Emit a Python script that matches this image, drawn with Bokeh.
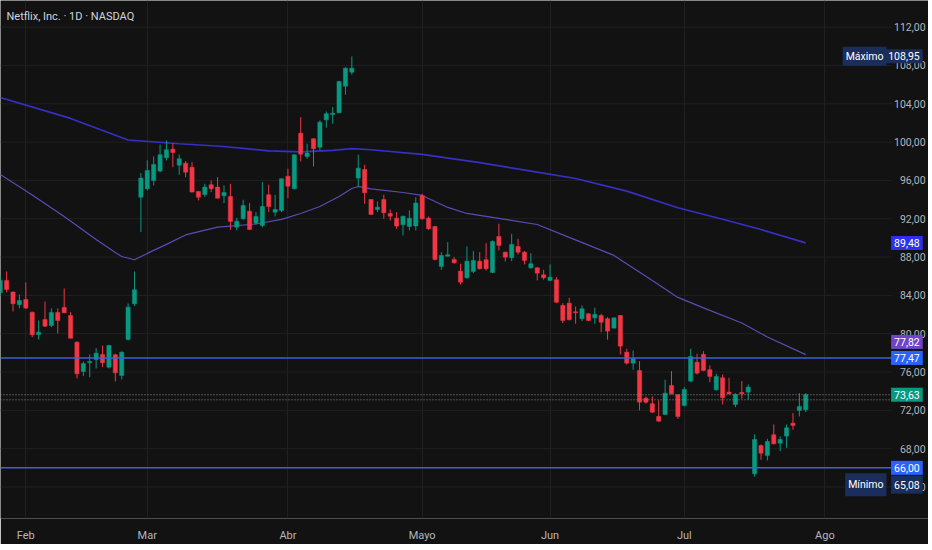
from bokeh.plotting import figure
from bokeh.models import (ColumnDataSource, FixedTicker, CustomJSTickFormatter,
                          Label, Range1d)
from bokeh.embed import file_html
from bokeh.resources import INLINE

title_text = "Netflix, Inc. \u00b7 1D \u00b7 NASDAQ"

opens = [84.30, 85.56, 84.34, 83.02, 83.57, 82.25, 79.92, 81.49, 80.86, 82.22,
         82.74, 81.90, 79.12, 76.06, 76.97, 77.31, 77.84, 76.51, 77.80, 75.64,
         79.40, 83.13, 94.25, 95.13, 96.00, 96.97, 98.37, 99.26, 97.59, 97.80,
         97.38, 94.85, 94.53, 95.55, 95.30, 94.40, 94.33, 91.12, 92.00, 92.79,
         91.54, 91.30, 94.50, 92.69, 92.86, 96.44, 95.13, 100.93, 98.50, 100.35,
         99.47, 102.33, 102.89, 103.06, 105.84, 107.30, 96.24, 97.14, 94.01, 92.97,
         94.01, 92.55, 92.06, 91.37, 91.20, 91.25, 94.43, 92.06, 91.19, 87.02,
         88.09, 87.75, 86.53, 85.84, 86.50, 87.57, 87.72, 86.39, 90.15, 88.51,
         87.93, 89.11, 88.51, 86.88, 86.88, 86.15, 85.56, 85.63, 82.95, 83.19,
         82.29, 81.56, 82.08, 81.66, 81.90, 81.56, 80.58, 81.90, 78.07, 76.93,
         76.16, 73.27, 72.69, 71.36, 71.57, 74.60, 73.63, 72.51, 75.05, 77.03,
         77.84, 76.24, 74.15, 75.40, 73.90, 72.61, 73.87, 73.90, 65.38, 68.33,
         67.29, 69.45, 68.57, 69.31, 70.66, 71.99, 72.06]
highs = [86.08, 86.50, 84.40, 84.09, 85.35, 82.30, 81.38, 83.36, 82.64, 82.64,
         84.72, 82.25, 79.20, 77.10, 77.84, 78.49, 78.77, 78.85, 77.91, 78.15,
         83.16, 86.50, 96.76, 98.08, 98.50, 99.75, 100.17, 99.89, 98.71, 98.01,
         97.91, 94.90, 95.65, 96.00, 96.34, 95.47, 95.65, 92.10, 93.98, 93.63,
         92.69, 95.82, 95.55, 94.50, 96.20, 97.22, 98.70, 102.60, 99.83, 100.40,
         102.26, 103.20, 103.65, 106.40, 107.80, 108.95, 98.68, 97.64, 94.05, 93.80,
         94.50, 92.97, 92.69, 92.30, 92.86, 94.25, 94.61, 92.24, 91.25, 88.51,
         89.56, 87.99, 87.30, 89.11, 88.62, 88.51, 89.45, 89.73, 91.48, 88.55,
         90.43, 89.91, 88.62, 88.41, 86.95, 86.67, 87.23, 85.90, 83.19, 83.75,
         82.84, 82.95, 82.14, 82.71, 82.08, 81.73, 81.70, 81.95, 78.43, 78.25,
         77.13, 73.45, 73.45, 73.03, 75.19, 76.09, 73.66, 74.42, 78.43, 77.91,
         78.18, 76.69, 75.82, 75.74, 75.40, 73.79, 75.05, 74.70, 69.49, 68.44,
         69.03, 70.53, 69.27, 70.53, 71.71, 73.79, 73.79]
lows = [84.00, 84.30, 82.32, 82.64, 82.60, 79.64, 79.40, 80.70, 80.68, 80.03,
        82.15, 79.50, 75.33, 75.57, 75.46, 76.37, 76.51, 76.37, 75.02, 75.22,
        79.30, 82.88, 90.60, 94.95, 95.47, 96.86, 98.08, 97.38, 96.59, 96.34,
        94.75, 93.91, 94.25, 94.78, 94.10, 93.63, 90.85, 90.78, 91.89, 90.85,
        91.40, 91.12, 92.69, 92.24, 92.69, 94.15, 95.06, 97.98, 98.26, 97.46,
        99.13, 101.50, 101.91, 103.00, 104.94, 107.03, 95.30, 93.56, 92.40, 92.69,
        92.00, 91.82, 90.95, 90.25, 90.78, 90.78, 91.89, 90.85, 87.65, 86.67,
        88.06, 87.30, 85.14, 85.74, 86.32, 86.71, 86.60, 86.32, 88.69, 87.54,
        87.57, 88.27, 87.23, 86.78, 85.56, 85.63, 85.49, 83.19, 81.10, 81.38,
        81.04, 81.31, 81.31, 81.04, 80.16, 79.37, 80.55, 77.84, 76.79, 76.24,
        71.99, 72.69, 71.71, 70.80, 71.50, 73.66, 71.12, 72.41, 74.94, 75.74,
        76.09, 74.94, 74.07, 72.61, 73.66, 72.33, 73.21, 73.11, 65.08, 66.84,
        66.77, 68.44, 67.74, 68.09, 69.98, 71.36, 71.81]
closes = [85.56, 84.62, 83.13, 83.47, 82.67, 79.89, 80.16, 80.79, 82.22, 81.38,
          82.19, 79.53, 75.82, 76.89, 77.10, 77.97, 76.97, 78.77, 75.92, 78.07,
          82.77, 84.59, 96.24, 97.04, 97.67, 98.68, 99.20, 98.92, 98.26, 96.86,
          94.78, 94.25, 95.30, 95.13, 94.15, 94.74, 91.72, 91.75, 93.39, 90.88,
          92.24, 93.28, 93.28, 92.97, 96.17, 95.40, 98.68, 98.74, 98.85, 99.31,
          102.08, 102.96, 103.02, 106.33, 107.72, 107.72, 97.28, 94.71, 92.45, 93.21,
          92.62, 92.27, 91.23, 92.27, 92.06, 93.63, 92.00, 90.95, 87.75, 88.17,
          88.24, 87.41, 85.38, 87.57, 87.65, 86.78, 86.78, 89.63, 89.21, 87.99,
          89.32, 88.51, 87.65, 87.30, 86.32, 85.84, 85.90, 83.29, 81.38, 81.46,
          82.19, 82.60, 81.38, 82.01, 81.20, 80.27, 81.66, 78.70, 76.93, 77.38,
          72.85, 72.85, 71.81, 70.87, 73.79, 73.73, 71.36, 74.18, 77.62, 75.88,
          76.16, 75.54, 75.54, 73.31, 73.73, 73.66, 73.73, 74.42, 68.96, 67.53,
          68.75, 68.51, 68.96, 70.18, 70.42, 72.41, 73.63]

ma_long_idx = [0, 11, 20, 28, 35, 42, 47, 52, 55, 58, 66, 75, 84, 90, 98, 106, 113, 119, 126]
ma_long_val = [104.66, 102.47, 100.22, 99.83, 99.54, 99.08, 98.97, 99.13, 99.31, 99.20,
               98.71, 97.85, 96.86, 96.20, 94.88, 93.15, 91.95, 90.88, 89.48]

ma_short_idx = [0, 5, 10, 15, 18, 19, 21, 23, 26, 29, 34, 40, 44, 47, 50, 53, 55, 56, 58,
                63, 66, 70, 73, 79, 84, 89, 96, 102, 106, 110, 116, 120, 126]
ma_short_val = [96.62, 94.48, 92.24, 89.84, 88.48, 88.06, 87.72, 88.38, 89.32, 90.31,
                91.12, 91.45, 91.93, 92.55, 93.28, 94.33, 95.16, 95.37, 95.11, 94.74,
                94.43, 93.18, 92.55, 91.93, 91.40, 90.05, 88.17, 85.56, 83.79, 82.69,
                81.11, 79.66, 77.82]

month_ticks = [4, 23, 45, 66, 86, 107, 129]
month_labels = ["Feb", "Mar", "Abr", "Mayo", "Jun", "Jul", "Ago"]
price_ticks = [64, 68, 72, 76, 80, 84, 88, 92, 96, 100, 104, 108, 112]

level_lines = [77.47, 66.00]
last_price = 73.63
alt_price = 73.10
high_mark = 108.95
low_mark = 65.08
ma_long_last = 89.48
ma_short_last = 77.82

BG = "#121212"
GRID = "#202020"
TXT = "#b2b5be"
UP = "#089981"
DOWN = "#f23645"
FONT = "Roboto"

idx = list(range(len(opens)))
src = ColumnDataSource(dict(
    x=idx, o=opens, h=highs, l=lows, c=closes,
    top=[max(a, b) for a, b in zip(opens, closes)],
    bottom=[min(a, b) for a, b in zip(opens, closes)],
    color=[UP if c >= o else DOWN for o, c in zip(opens, closes)],
))


def fmt(v):
    return f"{v:.2f}".replace(".", ",")


# x layout (index units): chart area, then the price scale column
X0 = 0.04          # left edge of the frame
CHART_END = 139.57 # right edge of the chart area
X_END = 145.2      # right edge of the frame (covers the price column)
LBL_X = 144.75     # right edge of price scale texts
BADGE_X = 144.3    # right edge of badge texts

p = figure(frame_width=928, frame_height=518,
           x_range=Range1d(X0, X_END), y_range=Range1d(60.71, 114.78),
           y_axis_location=None, toolbar_location=None, output_backend="svg",
           min_border=0, background_fill_color=BG, border_fill_color=BG,
           outline_line_color=None)

# vertical grid at month starts
p.xgrid.ticker = FixedTicker(ticks=month_ticks)
p.xgrid.grid_line_color = GRID
p.ygrid.visible = False

# horizontal grid limited to the chart area
p.segment(x0=[X0] * len(price_ticks), y0=price_ticks,
          x1=[CHART_END] * len(price_ticks), y1=price_ticks,
          line_color=GRID, line_width=1)

# price scale labels
p.text(x=[LBL_X] * len(price_ticks), y=price_ticks, text=[fmt(t) for t in price_ticks],
       text_align="right", text_baseline="middle", text_color=TXT,
       text_font_size="10.5px", text_font={"value": FONT})

# x axis
xa = p.xaxis[0]
xa.ticker = FixedTicker(ticks=month_ticks)
xa.formatter = CustomJSTickFormatter(args=dict(mt=month_ticks, ml=month_labels),
                                     code="const k = mt.indexOf(tick); return k >= 0 ? ml[k] : '';")
xa.axis_line_color = None
xa.major_tick_line_color = None
xa.minor_tick_line_color = None
xa.major_label_text_color = TXT
xa.major_label_text_font_size = "11px"
xa.major_label_text_font = FONT
xa.major_label_standoff = 4

# moving averages
p.line(ma_long_idx, ma_long_val, line_color="#3630c4", line_width=1.7)
p.line(ma_short_idx, ma_short_val, line_color="#5b4cb5", line_width=1.2)

# candles
p.segment(x0="x", y0="l", x1="x", y1="h", line_color="color", line_width=1, source=src)
p.vbar(x="x", width=0.66, top="top", bottom="bottom", fill_color="color",
       line_color="color", line_width=0.5, source=src)

# horizontal levels
n = len(level_lines)
p.segment(x0=[X0] * n, y0=level_lines, x1=[CHART_END] * n, y1=level_lines,
          line_color="#3b5fe0", line_width=1.5)
p.segment(x0=[X0] * 2, y0=[last_price, alt_price], x1=[CHART_END] * 2,
          y1=[last_price, alt_price], line_color="#8c8f96", line_width=1, line_dash="1 2")


def badge(y, text, bg, x=BADGE_X, y_off=0, x_off=0, pad=(3, 3)):
    p.add_layout(Label(x=x, y=y, text=text, x_offset=x_off, y_offset=y_off,
                       text_align="right", text_baseline="middle",
                       text_color="white", text_font_size="10.5px", text_font=FONT,
                       background_fill_color=bg, background_fill_alpha=1.0,
                       padding=pad))


NAVY = "#1b2d5b"
badge(high_mark, fmt(high_mark), NAVY)
badge(high_mark, "M\u00e1ximo", NAVY, x=CHART_END, x_off=-6)
badge(ma_long_last, fmt(ma_long_last), "#2f2ff0")
badge(level_lines[0], fmt(ma_short_last), "#7044c4", y_off=16)
badge(level_lines[0], fmt(level_lines[0]), "#2962ff")
badge(last_price, fmt(last_price), UP)
badge(level_lines[1], fmt(level_lines[1]), "#2962ff")
badge(low_mark, fmt(low_mark), NAVY, y_off=-8, pad=(3, 5))
badge(low_mark, "M\u00ednimo", NAVY, x=CHART_END, x_off=-6, y_off=-8, pad=(3, 5))

# title
p.add_layout(Label(x=X0, y=113.11, text=title_text, x_offset=6, text_baseline="middle",
                   text_color="#d1d4dc", text_font_size="11px", text_font=FONT))

open("out.html", "w").write(file_html(p, INLINE))
